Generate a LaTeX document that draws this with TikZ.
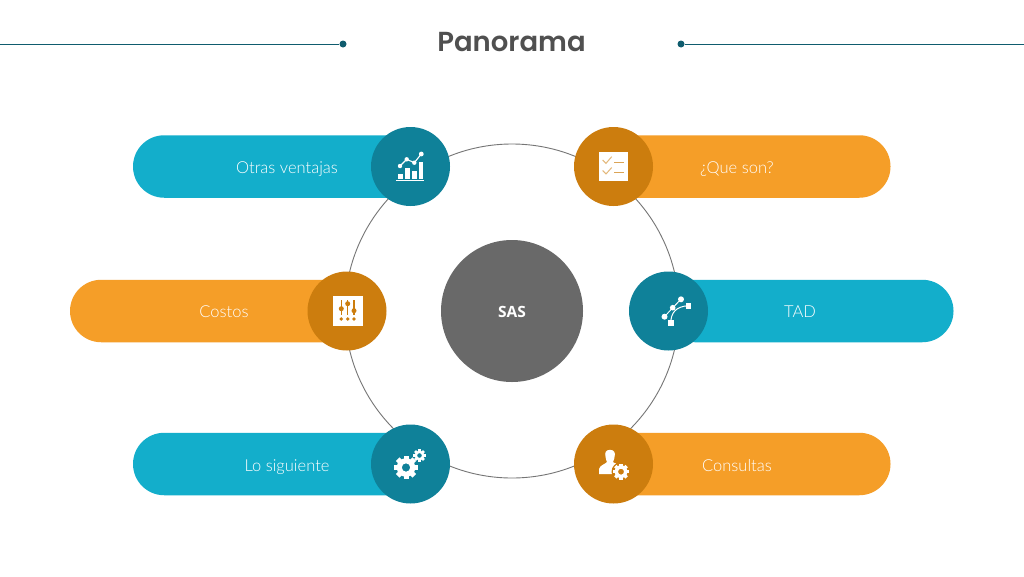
\documentclass[tikz,border=0pt]{standalone}
\usepackage{fontspec}
\setmainfont{Open Sans}
\newfontfamily\titlefont{Poppins SemiBold}
\newfontfamily\labfont{Lato Light}
\newfontfamily\sasfont{Open Sans}
\usetikzlibrary{shapes.misc}
\definecolor{teal}{HTML}{13AECB}
\definecolor{tealdk}{HTML}{0F8199}
\definecolor{orng}{HTML}{F59E28}
\definecolor{orngdk}{HTML}{CC7D0E}
\definecolor{ringc}{HTML}{757575}
\definecolor{grayc}{HTML}{696969}
\definecolor{rule}{HTML}{0F5C6E}
\definecolor{titlec}{HTML}{505050}
\tikzset{
 pill/.style={rounded rectangle,minimum height=62.5pt,inner sep=0pt,outer sep=0pt,text width=0pt},
 hub/.style={circle,minimum size=79pt,inner sep=0pt,outer sep=0pt},
 lab/.style={text=white,font=\labfont\fontsize{16.5pt}{19pt}\selectfont,inner sep=0pt,anchor=base},
 dot/.style={circle,fill=rule,minimum size=7pt,inner sep=0pt},
 rulel/.style={draw=rule,line width=1pt},
 ic/.style={fill=white,draw=none},
 icl/.style={draw=white,line width=1.1pt},
}
\begin{document}
\begin{tikzpicture}[x=1pt,y=-1pt]
\useasboundingbox[fill=white] (0,0) rectangle (1024,576);
% title
\coordinate (ruleL) at (0,44);
\coordinate (ruleR) at (1024,44);
\node[dot] (dotL) at (343,44) {};
\node[dot] (dotR) at (681,44) {};
\draw[rulel] (ruleL) -- (dotL);
\draw[rulel] (dotR) -- (ruleR);
\node[text=titlec,inner sep=0pt,anchor=base,font=\titlefont\fontsize{27.5pt}{30pt}\selectfont] (title) at (511.5,51) {Panorama};
% ring
\node[circle,draw=ringc,line width=0.9pt,minimum size=334pt,inner sep=0pt] (ring) at (512,311) {};
\node[circle,fill=grayc,minimum size=142pt,inner sep=0pt,outer sep=0pt] (sas) at (512,311) {};
\node[text=white,inner sep=0pt,anchor=base,font=\sasfont\bfseries\fontsize{15.5pt}{18pt}\selectfont] (sasl) at (512,317.5) {SAS};
% pills
\node[pill,fill=teal,minimum width=290pt] (p1) at (278,166.5) {};
\node[pill,fill=orng,minimum width=290pt] (p2) at (745.5,166.5) {};
\node[pill,fill=orng,minimum width=290pt] (p3) at (215,311) {};
\node[pill,fill=teal,minimum width=290pt] (p4) at (808.5,311) {};
\node[pill,fill=teal,minimum width=290pt] (p5) at (278,464) {};
\node[pill,fill=orng,minimum width=290pt] (p6) at (745.5,464) {};
% hubs
\node[hub,fill=tealdk] (h1) at (410.5,166.5) {};
\node[hub,fill=orngdk] (h2) at (613.5,166.5) {};
\node[hub,fill=orngdk] (h3) at (347,311) {};
\node[hub,fill=tealdk] (h4) at (668.5,311) {};
\node[hub,fill=tealdk] (h5) at (410.5,464) {};
\node[hub,fill=orngdk] (h6) at (613.5,464) {};
% labels
\node[lab] (l1) at (287,173) {Otras ventajas};
\node[lab] (l2) at (737,173) {¿Que son?};
\node[lab] (l3) at (224,317.5) {Costos};
\node[lab] (l4) at (800,317.5) {TAD};
\node[lab] (l5) at (287,471) {Lo siguiente};
\node[lab] (l6) at (737,471) {Consultas};
% icon 1: chart
\begin{scope}[shift={(h1.center)}]
 \fill[ic] (-14.5,13.6) rectangle (13.8,14.8);
 \fill[ic] (-12.5,7.5) rectangle (-8,12.6);
 \fill[ic] (-5.5,1) rectangle (-0.5,12.6);
 \fill[ic] (1.2,4) rectangle (6.2,12.6);
 \fill[ic] (8.2,-5) rectangle (12.8,12.6);
 \draw[icl] (-10.5,-0.5) -- (-3.8,-7.2) -- (3.8,-3.8) -- (10.8,-12.5);
 \fill[ic] (-10.5,-0.5) circle (2.2) (-3.8,-7.2) circle (2.2) (3.8,-3.8) circle (2.2) (10.8,-12.5) circle (2.4);
\end{scope}
% icon 2: checklist
\begin{scope}[shift={(h2.center)}]
 \fill[ic] (-15,-14.2) rectangle (14.5,14.8);
 \draw[orngdk!55!white,line width=1pt] (-10.8,-6.5) -- (-7.5,-3.2) -- (-1.8,-9.8);
 \draw[orngdk!55!white,line width=1pt] (-10.8,4) -- (-7.5,7.5) -- (-1.8,1);
 \draw[orngdk!70!white,line width=1pt] (0.5,-4.2) -- (10.5,-4.2) (0.5,6.2) -- (10.5,6.2);
\end{scope}
% icon 3: sliders
\begin{scope}[shift={(h3.center)}]
 \fill[ic] (-14,-14.7) rectangle (15.7,14.7);
 \draw[orngdk,line width=1.1pt] (-5.7,-10.7) -- (-5.7,3.7) (0.7,-10.7) -- (0.7,3.7) (7,-10.7) -- (7,3.7);
 \fill[orngdk] (-5.7,-2.3) circle (2.5) (0.7,-7.3) circle (2.5) (7,-0.3) circle (2.5);
 \fill[orngdk] (-5.7,8) circle (1.9) (0.7,8) circle (1.9) (7,8) circle (1.9);
\end{scope}
% icon 4: bezier
\begin{scope}[shift={(h4.center)}]
 \draw[icl,line width=0.9pt] (-4,5.7) -- (4.2,-3.3) -- (12.5,-11.7);
 \draw[icl,line width=1pt] (2.2,12) .. controls (2.5,2) and (7,-4.5) .. (19.8,-5.3);
 \fill[ic] (-4,5.7) circle (3) (4.2,-3.3) circle (2.8) (12.5,-11.7) circle (3);
 \fill[ic] (17,-8) rectangle (22.5,-2.5);
 \fill[ic] (-0.6,9.2) rectangle (5,14.8);
\end{scope}
% icon 5: gears
\begin{scope}[shift={(h5.center)}]
 \foreach \a in {0,45,...,315}{\fill[ic,rotate around={\a:(-4.5,3.5)}] (-7,-8.2) rectangle (-2,-3);}
 \fill[ic,even odd rule] (-4.5,3.5) circle (9.3) (-4.5,3.5) circle (4.2);
 \foreach \a in {0,45,...,315}{\fill[ic,rotate around={\a:(9,-8.5)}] (7.6,-14.8) rectangle (10.4,-11);}
 \fill[ic,even odd rule] (9,-8.5) circle (5) (9,-8.5) circle (2.4);
\end{scope}
% icon 6: person and gear
\begin{scope}[shift={(h6.center)}]
 \fill[ic] (-3.5,-14.2) .. controls (-8,-14.2) and (-8.8,-11) .. (-8,-7.5) .. controls (-7.6,-5) and (-7.3,-3.5) .. (-6.5,-2) .. controls (-8,0) and (-13.5,1) .. (-14.5,5) -- (-14.5,10) -- (1,10) -- (1,3) -- (2.5,-0.5) .. controls (1,-1) and (0,-1.5) .. (-0.5,-2) .. controls (0.5,-4) and (1,-6) .. (1.2,-8) .. controls (1.8,-11) and (1,-14.2) .. (-3.5,-14.2) -- cycle;
 \fill[orngdk] (7.5,7.7) circle (9.5);
 \foreach \a in {0,45,...,315}{\fill[ic,rotate around={\a:(7.5,7.7)}] (5.8,-0.3) rectangle (9.2,3);}
 \fill[ic,even odd rule] (7.5,7.7) circle (6.4) (7.5,7.7) circle (3);
\end{scope}
\end{tikzpicture}
\end{document}
